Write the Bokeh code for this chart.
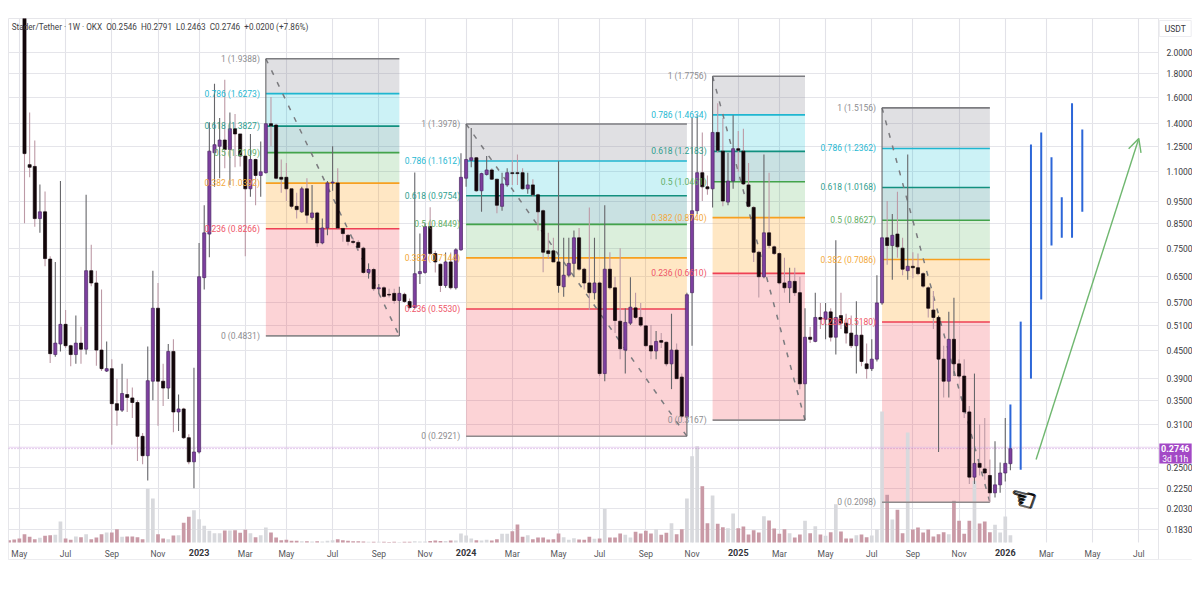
from bokeh.plotting import figure
from bokeh.core.properties import value
from bokeh.models import (FixedTicker, PrintfTickFormatter, Range1d, LinearAxis, LinearScale,
                          Arrow, OpenHead, Label)
from bokeh.embed import file_html
from bokeh.resources import INLINE

opens = [2.40,1.14,1.13,.87,.90,.71,.44,.464,.512,.46,
 .44,.466,.452,.67,.63,.45,.405,.41,.344,.333,
 .36,.354,.346,.292,.265,.385,.555,.385,.372,.447,
 .33,.335,.29,.257,.27,.647,.805,1.21,1.25,1.29,
 1.23,1.365,1.33,1.19,1.01,1.17,1.08,1.095,1.40,1.39,
 1.07,1.07,1.01,.925,.90,1.01,.875,.895,.77,.83,
 1.04,1.04,.828,.80,.776,.772,.75,.664,.674,.612,
 .615,.595,.598,.577,.595,.574,.557,.66,.664,.836,
 .73,.692,.622,.70,.615,.744,1.065,1.165,1.18,1.0,
 1.085,1.11,1.06,.925,1.03,1.095,1.095,1.095,1.01,1.03,
 .98,.905,.74,.74,.70,.618,.655,.695,.79,.675,
 .63,.60,.63,.40,.675,.615,.52,.45,.515,.556,
 .53,.508,.46,.448,.472,.468,.42,.45,.393,.322,
 .60,.905,1.095,1.02,1.01,1.34,1.22,.945,1.05,1.235,
 1.22,1.03,.92,.735,.65,.81,.755,.73,.63,.615,
 .635,.60,.38,.48,.47,.53,.525,.545,.48,.535,
 .515,.49,.46,.485,.42,.41,.43,.57,.79,.76,
 .805,.75,.67,.685,.68,.66,.615,.55,.53,.43,
 .385,.475,.42,.395,.33,.238,.255,.248,.24,.22,
 .229,.243,.2546]
highs = [3.00,1.48,1.287,1.032,.997,.72,.70,1.05,.55,.462,
 .535,.506,.98,.763,.67,.61,.47,.43,.39,.42,
 .39,.373,.35,.297,.458,.67,.63,.42,.464,.475,
 .36,.337,.295,.412,.77,.93,1.41,1.71,1.44,1.745,
 1.48,1.47,1.33,1.2,1.33,1.175,1.28,1.9388,1.6,1.40,
 1.17,1.15,1.01,.99,1.02,1.065,1.03,.90,.87,1.05,
 1.25,1.12,.83,.805,.79,.78,.755,.695,.68,.627,
 .62,.612,.612,.618,.60,.583,1.096,.807,.85,.921,
 .74,.695,.734,.734,.75,1.207,1.3978,1.37,1.185,1.095,
 1.19,1.12,1.06,1.095,1.12,1.165,1.20,1.12,1.095,1.06,
 .985,.91,.81,.79,1.16,.79,.79,.82,.83,.68,
 .92,.79,.635,.93,.735,.65,.75,.555,.648,.60,
 .57,.51,.51,.495,.49,.47,.54,.465,.40,.60,
 1.44,1.46,1.34,1.08,1.7756,1.55,1.44,1.21,1.46,1.35,
 1.365,1.15,.925,.74,1.2,1.095,.76,.735,.715,.68,
 .68,.65,.555,.505,.60,.57,.57,.555,.78,.60,
 .54,.535,.575,.51,.465,.475,.655,1.5156,.95,.89,
 .995,.79,1.20,.735,.73,.665,.62,.605,.535,.46,
 .545,.585,.43,.43,.34,.40,.31,.32,.26,.285,
 .256,.32,.2791]
lows = [.85,1.07,.835,.81,.685,.422,.435,.447,.455,.415,
 .42,.42,.44,.62,.416,.405,.403,.28,.308,.33,
 .33,.32,.258,.254,.234,.35,.308,.34,.352,.298,
 .30,.288,.254,.225,.268,.61,.717,1.02,1.065,1.12,
 1.03,1.125,1.13,.72,.97,.93,.97,1.09,1.25,1.06,
 .99,.95,.915,.87,.895,.85,.865,.755,.765,.80,
 1.00,.825,.775,.76,.765,.74,.66,.644,.605,.598,
 .585,.586,.568,.4831,.57,.552,.555,.627,.66,.725,
 .664,.602,.615,.61,.61,.74,1.02,1.125,.995,.90,
 1.08,1.055,.893,.905,1.02,1.03,1.03,1.005,.985,.97,
 .82,.665,.71,.70,.60,.588,.648,.648,.67,.61,
 .55,.58,.395,.385,.61,.49,.43,.40,.51,.525,
 .505,.458,.43,.43,.455,.415,.37,.39,.32,.2921,
 .46,.89,.95,.98,.92,1.21,.925,.93,1.01,1.10,
 1.03,.92,.70,.586,.645,.75,.725,.625,.60,.57,
 .59,.37,.3167,.466,.468,.50,.475,.47,.44,.50,
 .465,.455,.40,.415,.39,.405,.425,.565,.69,.64,
 .715,.655,.64,.645,.655,.615,.53,.50,.27,.355,
 .355,.395,.39,.32,.23,.23,.24,.235,.2098,.215,
 .22,.233,.2463]
closes = [1.205,1.125,.87,.90,.712,.442,.466,.512,.46,.44,
 .466,.452,.67,.63,.45,.41,.41,.344,.333,.362,
 .355,.346,.292,.265,.386,.555,.385,.372,.447,.33,
 .335,.29,.257,.27,.65,.81,1.22,1.26,1.29,1.23,
 1.365,1.33,1.19,1.01,1.17,1.08,1.10,1.40,1.385,1.065,
 1.06,1.01,.925,.91,1.01,.885,.895,.77,.83,1.04,
 1.045,.83,.807,.776,.772,.753,.664,.674,.612,.615,
 .589,.593,.577,.598,.574,.557,.66,.667,.836,.73,
 .70,.622,.70,.615,.744,1.07,1.17,1.18,1.0,1.09,
 1.11,1.06,.93,1.035,1.095,1.09,1.09,1.01,1.03,.98,
 .90,.735,.73,.70,.622,.655,.695,.79,.675,.63,
 .60,.63,.40,.675,.615,.522,.453,.517,.558,.53,
 .51,.46,.448,.47,.468,.42,.45,.39,.323,.594,
 .905,1.095,1.02,1.01,1.34,1.225,.95,1.05,1.235,1.225,
 1.035,.925,.735,.65,.81,.76,.73,.63,.615,.635,
 .60,.38,.48,.475,.53,.525,.545,.48,.53,.515,
 .49,.46,.485,.425,.41,.43,.57,.79,.76,.80,
 .755,.675,.685,.68,.66,.62,.555,.53,.43,.385,
 .475,.42,.395,.33,.238,.255,.25,.243,.22,.229,
 .243,.255,.2746]

# Volume starts three weeks before the first visible candle
volumes = [2.3,3,4,
 8.3,5.7,3.3,4.7,6.7,7.3,7.7,21,4,2.7,
 6,5.3,8.3,3.3,5,8.3,10,10,13.3,5.7,
 6,6,5.3,3.3,53.7,44,8.3,4,3.3,7,
 7.3,19.7,25.7,32.3,23.3,16.7,11.7,9.3,9.3,12,
 12,12.3,9.7,12.7,9.3,5.3,7.3,15,10,5,
 2.3,2.7,1.7,1.7,1.3,1.3,1,1.3,1,1.7,
 2.3,3.3,2.3,1.7,1.3,1.3,1,.7,.7,.7,
 .7,.5,.7,.5,.8,.7,1.2,1,1,1.5,
 2,1.5,1.5,2,2,9,7,4,2.3,2,
 2.7,2,3.3,8.7,8.7,11.3,18,5.7,7.3,3.3,
 5,5,3,3.3,9,5.3,2.7,4.3,3,2.7,
 5.7,3.7,4,33.7,5,5,9,7.7,5,10.7,
 9,11.7,9,13.3,7.7,9.7,19.3,8.3,13.3,44,
 86.3,96.3,56.3,19.3,47,18.7,15.3,14.3,29,14.3,
 16,8,12.3,10,26.3,22,14,8.7,13.3,9.3,
 5,8,21.7,9.3,16.3,8,6.7,10.3,38.3,11,
 4,4,7.3,8,5.3,7,13,131,47.7,23,
 32.7,9.3,110,13,15,10,13,6,8.3,10.3,
 8.3,41.7,21.7,8.7,21.7,61.7,19,21,10.3,17.7,
 10,26,7.3]

price_ticks = [2.0,1.8,1.6,1.4,1.25,1.1,.95,.85,.75,.65,.57,.51,.45,.39,.35,.31,.25,.225,.203,.183]
month_ticks = [-1,8,17,26,43,51,60,69,78,95,104,112,121,130,147,156,165,173,182,199,208,217]
month_names = ["May","Jul","Sep","Nov","Mar","May","Jul","Sep","Nov","Mar","May","Jul","Sep","Nov",
               "Mar","May","Jul","Sep","Nov","Mar","May","Jul"]
year_ticks = [34,86,139,191]
year_names = ["2023","2024","2025","2026"]

fib_levels = ["1","0.786","0.618","0.5","0.382","0.236","0"]
fib_line_colors = ["#7c7c80","#1fb6d0","#12907f","#43a34b","#f7a020","#ee4155","#8e8a8c"]
fib_text_colors = ["#8d8d90","#27b8d2","#2f9e8e","#62ae66","#f3a93a","#ee5568","#8d8d90"]
fib_fill_colors = ["#787b86","#00bcd4","#2f8a90","#4caf50","#ff9800","#f23645"]
fib_fill_alphas = [.23,.2,.26,.2,.23,.22]
fib_starts = [47,86,134,167]
fib_ends = [73,129,152,188]
fib_prices = [
 [1.9388,1.6273,1.3827,1.2109,1.0392,.8266,.4831],
 [1.3978,1.1612,.9754,.8449,.7144,.5530,.2921],
 [1.7756,1.4634,1.2183,1.0461,.8740,.6610,.3167],
 [1.5156,1.2362,1.0168,.8627,.7086,.5180,.2098],
]

forecast_x = [192,194,196,198,200,202,204,206]
forecast_hi = [.3426,.519,1.261,1.34,1.183,.968,1.55,1.36]
forecast_lo = [.275,.247,.39,.58,.76,.79,.79,.90]

arrow_x = [197,217]
arrow_y = [.26,1.30]

dark_wicks = [60,104,178,181]

last_price = .2746

# The frame covers the price and time strips as well, so that their tag and boxes can be drawn
x_lo, x_axis, x_hi = -3.116, 220.84, 227.46
y_lo, y_axis, y_hi = .1575, .1716, 2.372
p = figure(frame_width=1184, frame_height=541, x_range=Range1d(x_lo, x_hi),
           y_range=Range1d(y_lo, y_hi), y_axis_type="log", y_axis_location="right",
           output_backend="svg", toolbar_location=None,
           min_border_left=8, min_border_top=18, min_border_right=0, min_border_bottom=30,
           background_fill_color="white", border_fill_color="white",
           outline_line_color="#e6e6ea", outline_line_width=1)
p.extra_y_ranges = {"vol": Range1d(-17, 524)}
p.extra_y_scales = {"vol": LinearScale()}

# axes and grid
yax = p.yaxis[0]
yax.fixed_location = x_axis
yax.ticker = FixedTicker(ticks=price_ticks)
yax.formatter = PrintfTickFormatter(format="%.4f")
yax.axis_line_color = None
yax.major_tick_line_color = None
yax.minor_tick_line_color = None
yax.major_label_text_font = "Roboto"
yax.major_label_text_font_size = "8.5px"
yax.major_label_text_color = "#3a3a3e"
yax.major_label_standoff = 2

xax = p.xaxis[0]
xax.fixed_location = y_axis
xax.ticker = FixedTicker(ticks=month_ticks)
xax.major_label_overrides = {t: n for t, n in zip(month_ticks, month_names)}
xax.axis_line_color = None
xax.major_tick_line_color = None
xax.minor_tick_line_color = None
xax.major_label_text_font = "Roboto"
xax.major_label_text_font_size = "8.5px"
xax.major_label_text_color = "#55555a"
xax.major_label_standoff = 1

year_axis = LinearAxis(fixed_location=y_axis, ticker=FixedTicker(ticks=year_ticks),
                       major_label_overrides={t: n for t, n in zip(year_ticks, year_names)},
                       axis_line_color=None, major_tick_line_color=None, minor_tick_line_color=None,
                       major_label_text_font="Roboto", major_label_text_font_size="9px",
                       major_label_text_font_style="bold", major_label_text_color="#33333a",
                       major_label_standoff=1)
p.add_layout(year_axis, "below")

p.ygrid[0].ticker = FixedTicker(ticks=price_ticks)
p.ygrid[0].grid_line_color = "#e5e5ea"
p.ygrid[0].grid_line_width = 1.2
p.xgrid[0].ticker = FixedTicker(ticks=month_ticks + year_ticks)
p.xgrid[0].grid_line_color = "#e2e2e8"
p.xgrid[0].grid_line_width = 1.1

# white strips hide the grid under the axes
p.quad(left=[x_axis, x_lo], right=[x_hi, x_hi], top=[y_hi, y_axis], bottom=[y_lo, y_lo],
       fill_color="white", line_color=None)
p.segment([x_axis], [y_lo], [x_axis], [y_hi], line_color="#e6e6ea", line_width=1)

# fib drawings
for start, end, prices in zip(fib_starts, fib_ends, fib_prices):
    p.quad(left=[start]*6, right=[end]*6, top=prices[:-1], bottom=prices[1:],
           fill_color=fib_fill_colors, fill_alpha=fib_fill_alphas, line_color=None)

# volume
n = len(closes)
vol_x = list(range(-3, n))
vol_up = [False]*3 + [c >= o for o, c in zip(opens, closes)]
vol_colors = ["#d8d9dd" if u else "#c99aa6" for u in vol_up]
p.vbar(x=vol_x, width=.72, bottom=0, top=volumes, fill_color=vol_colors, line_color=None,
       y_range_name="vol")

for start, end, prices in zip(fib_starts, fib_ends, fib_prices):
    for price, col in zip(prices, fib_line_colors):
        p.segment([start], [price], [end], [price], line_color=col, line_width=1.6)
    diag = p.segment([start], [prices[0]], [end], [prices[-1]], line_color="#7b7b7f", line_width=1.5)
    diag.glyph.line_dash = [5, 8]

# last-price lines
dots = p.segment([x_lo], [last_price], [x_axis], [last_price], line_color="#b06ac8", line_alpha=.7, line_width=1)
dots.glyph.line_dash = [1, 2]
p.segment([x_lo], [.2765], [x_axis], [.2765], line_color="#d9b8e4", line_alpha=.6, line_width=1)

# candles
xs = list(range(n))
up = [c >= o for o, c in zip(opens, closes)]
wick_colors = ["#66666a" if (u or i in dark_wicks) else "#bd9aa6" for i, u in enumerate(up)]
p.segment(xs, lows, xs, highs, line_color=wick_colors, line_width=1.1)
body_colors = ["#7d3f9f" if u else "#12060a" for u in up]
edge_colors = ["#4d2a66" if u else "#12060a" for u in up]
p.vbar(x=xs, width=.6, bottom=opens, top=closes, fill_color=body_colors, line_color=edge_colors, line_width=.7)

# forecast bars
p.segment(forecast_x, forecast_lo, forecast_x, forecast_hi, line_color="#2c66d8", line_width=2)

# arrow
p.add_layout(Arrow(end=OpenHead(size=13, line_color="#6fb76f", line_width=1.4),
                   x_start=arrow_x[0], y_start=arrow_y[0], x_end=arrow_x[1], y_end=arrow_y[1],
                   line_color="#6fb76f", line_width=1.4))

# fib labels
lx, ly, lt, lc = [], [], [], []
for start, prices in zip(fib_starts, fib_prices):
    for price, col, lev in zip(prices, fib_text_colors, fib_levels):
        lx.append(start); ly.append(price); lt.append(f"{lev} ({price:.4f})"); lc.append(col)
p.text(lx, ly, text=lt, text_color=lc, text_align="right", text_baseline="middle",
       x_offset=-6, text_font=value("Roboto"), text_font_size="8.5px")

# hand cursor, thickened by overdrawing
for dx, dy in [(-.8, 0), (.8, 0), (0, -.8), (0, .8)]:
    p.text([194.5], [.2137], text=["\u261c"], text_font=value("DejaVu Sans"), text_font_size="30px",
           text_color="#000000", text_align="center", text_baseline="middle", angle=-0.25,
           x_offset=dx, y_offset=dy)

# header
p.add_layout(Label(x=-2.5, y=2.268,
                   text="Stader/Tether · 1W · OKX\u00a0\u00a0O0.2546\u00a0\u00a0H0.2791\u00a0\u00a0L0.2463\u00a0\u00a0C0.2746\u00a0\u00a0+0.0200 (+7.86%)",
                   text_font="Roboto", text_font_size="8.2px", text_color="#3f3f45", text_baseline="middle"))

# price tag and currency box on the price strip
p.quad(left=[221.0], right=[227.3], top=[.2817], bottom=[.2547], fill_color="#a349c6", line_color=None)
p.text([224.1], [last_price], text=["0.2746"], text_color="white", text_align="center", text_baseline="middle",
       text_font=value("Roboto"), text_font_size="9px", text_font_style="bold")
p.text([224.1], [.2612], text=["3d 11h"], text_color="white", text_align="center", text_baseline="middle",
       text_font=value("Roboto"), text_font_size="8.5px")
p.quad(left=[221.0], right=[227.2], top=[2.348], bottom=[2.167], fill_color="white", line_color="#ececf0")
p.text([224.1], [2.256], text=["USDT"], text_color="#3a3a3e", text_align="center", text_baseline="middle",
       text_font=value("Roboto"), text_font_size="8.5px")

open("out.html", "w").write(file_html(p, INLINE))
